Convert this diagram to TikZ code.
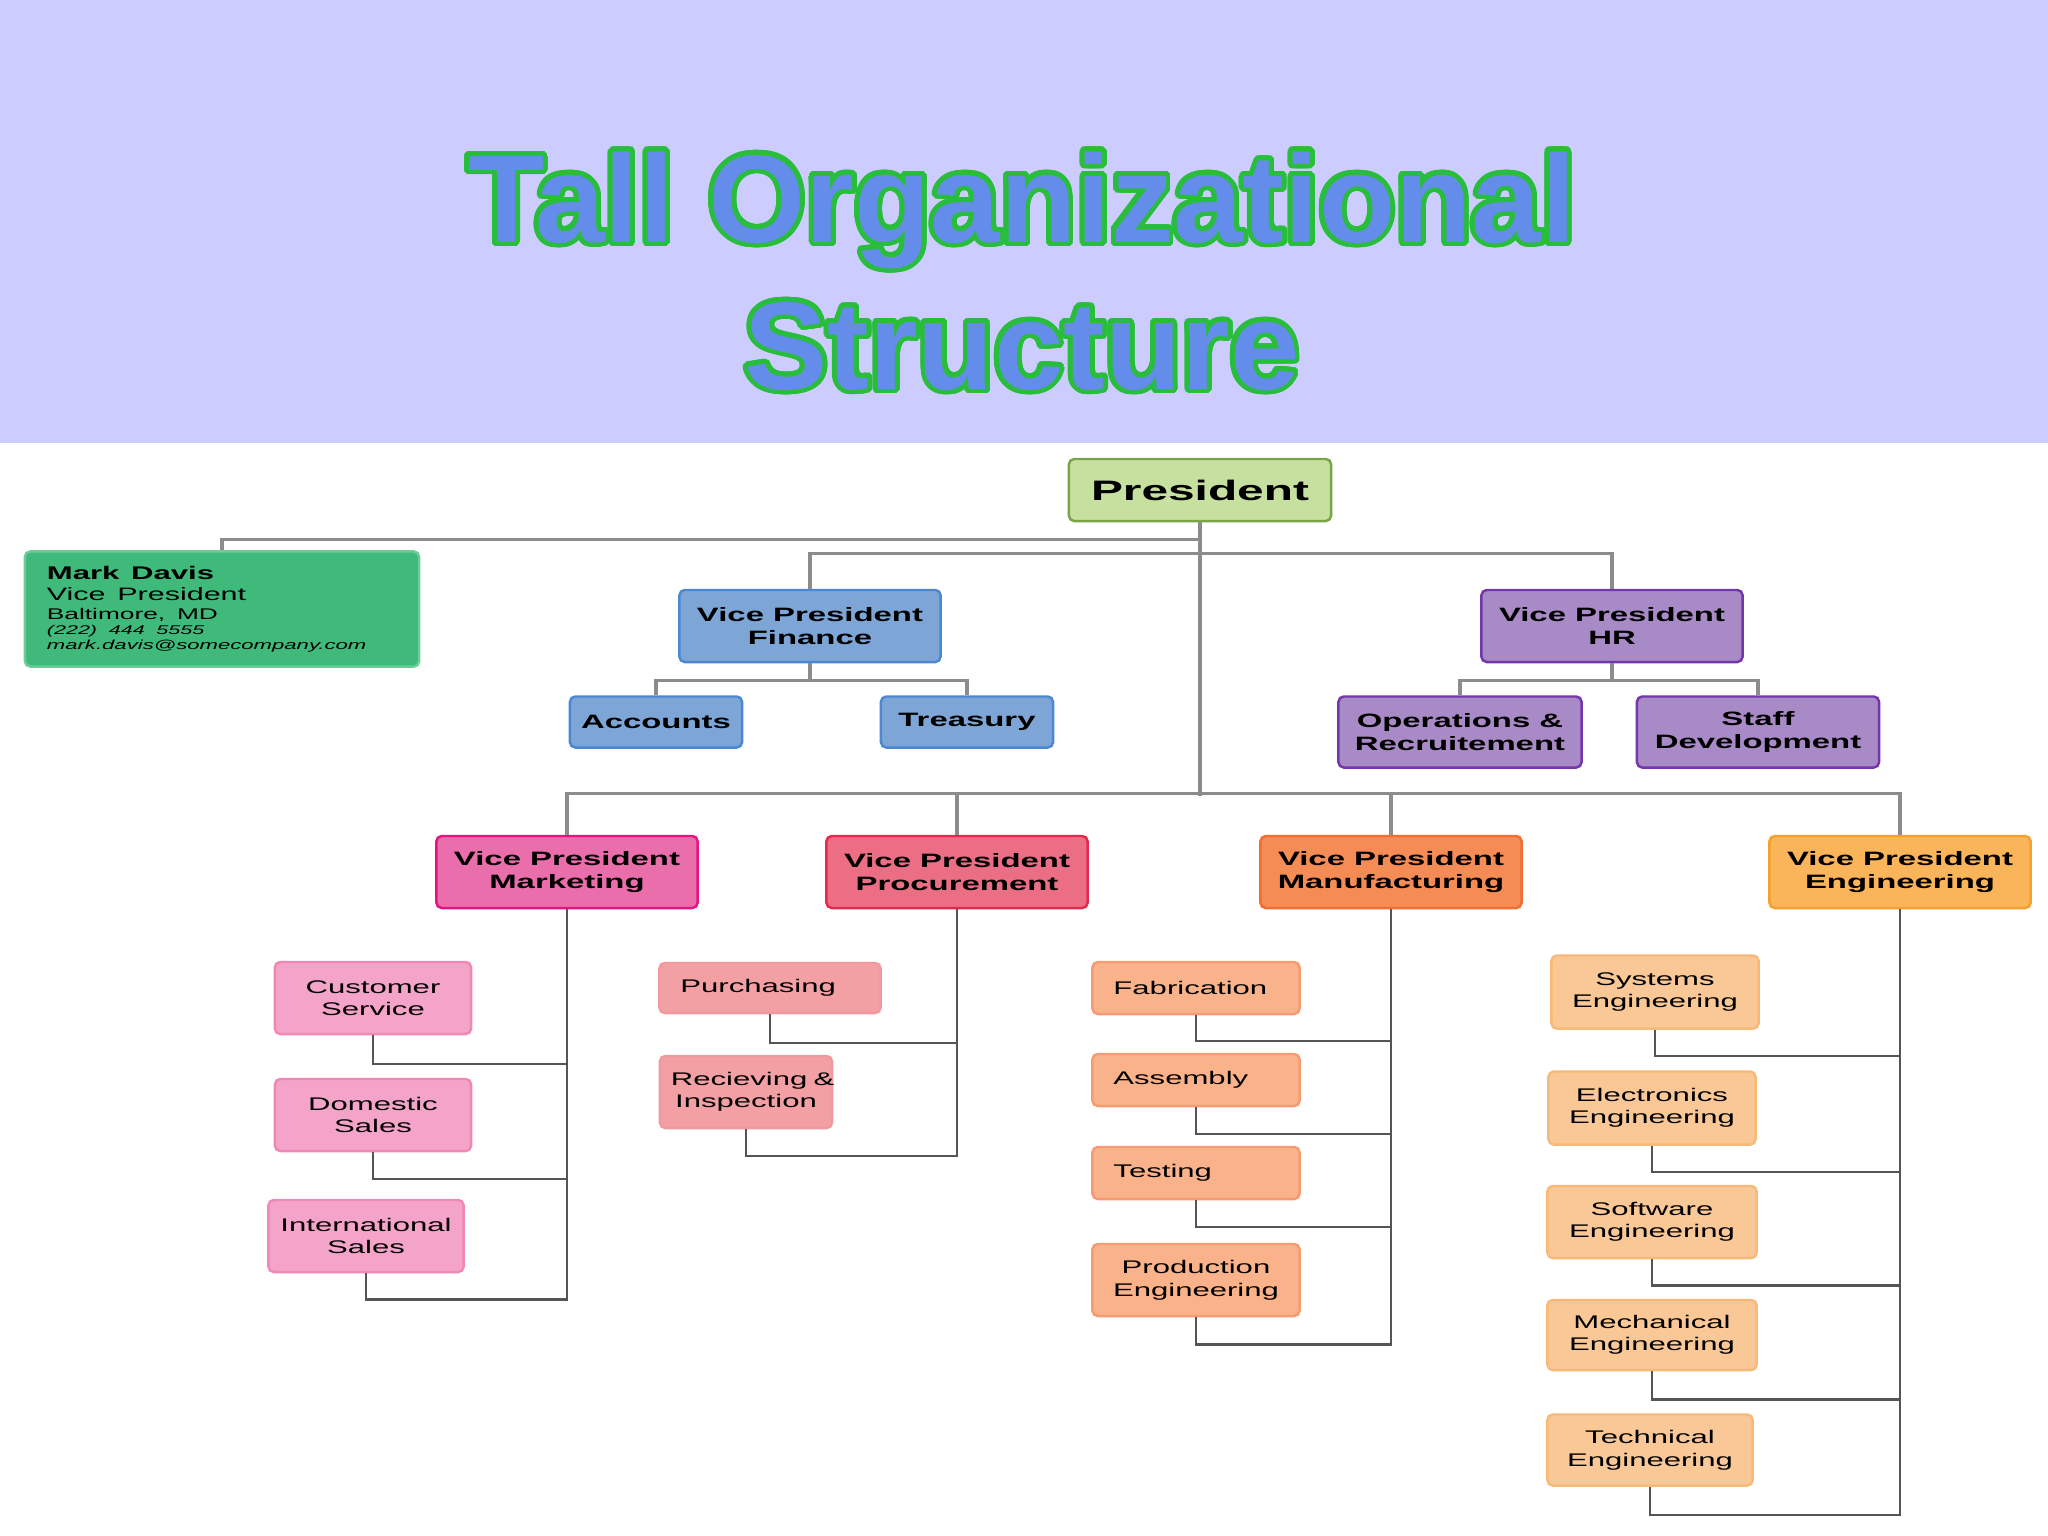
\documentclass[tikz,border=0pt]{standalone}
\usepackage{fontspec}
\setmainfont{Liberation Sans}
\newfontfamily\chartfont[FakeStretch=1.7]{Liberation Sans}
\usepackage{contour}
\contourlength{1.4pt}
\contournumber{24}

\definecolor{bannerbg}{RGB}{204,204,255}
\definecolor{titleblue}{RGB}{100,140,235}
\definecolor{titlegreen}{RGB}{40,190,60}
\definecolor{presfill}{RGB}{198,224,160}
\definecolor{presline}{RGB}{120,165,70}
\definecolor{markfill}{RGB}{64,186,122}
\definecolor{markline}{RGB}{110,205,150}
\definecolor{finfill}{RGB}{125,166,214}
\definecolor{finline}{RGB}{75,135,210}
\definecolor{hrfill}{RGB}{168,138,198}
\definecolor{hrline}{RGB}{115,55,170}
\definecolor{mktfill}{RGB}{234,110,172}
\definecolor{mktline}{RGB}{228,20,130}
\definecolor{mktleaf}{RGB}{244,164,200}
\definecolor{mktleafline}{RGB}{240,135,180}
\definecolor{procfill}{RGB}{236,110,132}
\definecolor{procline}{RGB}{228,40,80}
\definecolor{procleaf}{RGB}{242,160,164}
\definecolor{procleafline}{RGB}{240,125,140}
\definecolor{manufill}{RGB}{245,140,85}
\definecolor{manuline}{RGB}{240,110,50}
\definecolor{manuleaf}{RGB}{250,178,138}
\definecolor{manuleafline}{RGB}{245,155,115}
\definecolor{engfill}{RGB}{250,180,90}
\definecolor{engline}{RGB}{245,160,45}
\definecolor{engleaf}{RGB}{250,200,150}
\definecolor{engleafline}{RGB}{247,185,120}
\definecolor{linkgray}{RGB}{140,140,140}
\definecolor{subgray}{RGB}{85,85,85}

\begin{document}
\begin{tikzpicture}[
  x=0.01cm,y=-0.01cm,
  box/.style={draw,rounded corners=1.5pt,line width=0.7pt,align=center,inner sep=1pt,
    font=\chartfont\bfseries\fontsize{5.5}{6.4}\selectfont},
  vp/.style={box,minimum width=2.61cm,minimum height=0.72cm},
  leaf/.style={box,font=\chartfont\fontsize{5.2}{6.4}\selectfont,minimum width=2.07cm,minimum height=0.72cm},
  short/.style={minimum height=0.52cm,align=left,inner xsep=0.21cm},
  title/.style={anchor=base,text=titleblue,font=\bfseries\fontsize{35.5}{42}\selectfont},
  link/.style={draw=linkgray,line width=0.9pt},
  sublink/.style={draw=subgray,line width=0.7pt}
]
  \useasboundingbox (0,0) rectangle (2048,1536);
  \fill[bannerbg] (0,0) rectangle (2048,443);
  \node[title] (title1) at (1022,242) {\contour{titlegreen}{Tall Organizational}};
  \node[title] (title2) at (1022,389) {\contour{titlegreen}{Structure}};

  % top of the chart
  \node[box,fill=presfill,draw=presline,minimum width=2.62cm,minimum height=0.62cm,
    font=\chartfont\bfseries\fontsize{8}{9}\selectfont] (pres) at (1200,490) {President};
  \node[box,fill=markfill,draw=markline,minimum width=3.94cm,minimum height=1.15cm,
    text width=3.5cm,align=left,font=\chartfont] (mark) at (222,609)
    {{\bfseries\fontsize{5.2}{5.8}\selectfont Mark Davis\par}
     {\fontsize{5.1}{6}\selectfont Vice President\par}
     {\fontsize{4.4}{5.3}\selectfont Baltimore, MD\par}
     {\itshape\fontsize{3.6}{4.3}\selectfont (222) 444 5555\par}
     {\itshape\fontsize{3.7}{4.3}\selectfont mark.davis@somecompany.com\par}};
  \node[vp,fill=finfill,draw=finline] (fin) at (810,626) {Vice President\\Finance};
  \node[vp,fill=hrfill,draw=hrline] (hr) at (1612,626) {Vice President\\HR};
  \node[box,fill=finfill,draw=finline,minimum width=1.72cm,minimum height=0.51cm] (acc) at (656,722) {Accounts};
  \node[box,fill=finfill,draw=finline,minimum width=1.72cm,minimum height=0.51cm] (tre) at (967,722) {Treasury};
  \node[box,fill=hrfill,draw=hrline,minimum width=2.43cm,minimum height=0.71cm] (ops) at (1460,732) {Operations \&\\Recruitement};
  \node[box,fill=hrfill,draw=hrline,minimum width=2.42cm,minimum height=0.71cm] (staff) at (1758,732) {Staff\\Development};

  % vice presidents on the long line
  \node[vp,fill=mktfill,draw=mktline] (mkt) at (567,872) {Vice President\\Marketing};
  \node[vp,fill=procfill,draw=procline] (proc) at (957,872) {Vice President\\Procurement};
  \node[vp,fill=manufill,draw=manuline] (manu) at (1391,872) {Vice President\\Manufacturing};
  \node[vp,fill=engfill,draw=engline] (eng) at (1900,872) {Vice President\\Engineering};

  % departments
  \node[leaf,fill=mktleaf,draw=mktleafline,minimum width=1.96cm] (cust) at (373,998) {Customer\\Service};
  \node[leaf,fill=mktleaf,draw=mktleafline,minimum width=1.96cm] (dom) at (373,1115) {Domestic\\Sales};
  \node[leaf,fill=mktleaf,draw=mktleafline,minimum width=1.95cm] (intl) at (366,1236) {International\\Sales};
  \node[leaf,short,fill=procleaf,draw=procleaf!80!procleafline,text width=1.79cm,minimum height=0.5cm] (purch) at (770,988) {Purchasing};
  \node[leaf,fill=procleaf,draw=procleaf!80!procleafline,minimum width=1.72cm,text width=1.5cm,inner xsep=0.11cm] (recv) at (746,1092) {Recieving~\&\\Inspection};
  \node[leaf,short,fill=manuleaf,draw=manuleafline,text width=1.65cm] (fab) at (1196,988) {Fabrication};
  \node[leaf,short,fill=manuleaf,draw=manuleafline,text width=1.65cm] (asm) at (1196,1080) {Assembly};
  \node[leaf,short,fill=manuleaf,draw=manuleafline,text width=1.65cm] (test) at (1196,1173) {Testing};
  \node[leaf,fill=manuleaf,draw=manuleafline] (prod) at (1196,1280) {Production\\Engineering};
  \node[leaf,fill=engleaf,draw=engleafline,minimum height=0.73cm] (sys) at (1655,992) {Systems\\Engineering};
  \node[leaf,fill=engleaf,draw=engleafline,minimum height=0.73cm] (elec) at (1652,1108) {Electronics\\Engineering};
  \node[leaf,fill=engleaf,draw=engleafline,minimum width=2.09cm] (soft) at (1652,1222) {Software\\Engineering};
  \node[leaf,fill=engleaf,draw=engleafline,minimum width=2.09cm,minimum height=0.7cm] (mech) at (1652,1335) {Mechanical\\Engineering};
  \node[leaf,fill=engleaf,draw=engleafline,minimum width=2.05cm,minimum height=0.71cm] (tech) at (1650,1450) {Technical\\Engineering};

  % upper links
  \draw[link] (pres.south) -- ++(0,17) -| (mark.north);
  \draw[link] (pres.south) -- ++(0,274);
  \draw[link] (fin.north) -- ++(0,-35) -| (hr.north);
  \draw[link] (fin.south) -- ++(0,17) -| (acc.north);
  \draw[link] (fin.south) -- ++(0,17) -| (tre.north);
  \draw[link] (hr.south) -- ++(0,17) -| (ops.north);
  \draw[link] (hr.south) -- ++(0,17) -| (staff.north);
  \draw[link] (mkt.north) -- ++(0,-41) -| (eng.north);
  \draw[link] (proc.north) -- ++(0,-41);
  \draw[link] (manu.north) -- ++(0,-41);

  % department links
  \draw[sublink] (cust.south) -- ++(0,29) -| (mkt.south);
  \draw[sublink] (dom.south) -- ++(0,27) -| (mkt.south);
  \draw[sublink] (intl.south) -- ++(0,26) -| (mkt.south);
  \draw[sublink] (purch.south) -- ++(0,29) -| (proc.south);
  \draw[sublink] (recv.south) -- ++(0,27) -| (proc.south);
  \draw[sublink] (fab.south) -- ++(0,26) -| (manu.south);
  \draw[sublink] (asm.south) -- ++(0,27) -| (manu.south);
  \draw[sublink] (test.south) -- ++(0,27) -| (manu.south);
  \draw[sublink] (prod.south) -- ++(0,27) -| (manu.south);
  \draw[sublink] (sys.south) -- ++(0,26) -| (eng.south);
  \draw[sublink] (elec.south) -- ++(0,26) -| (eng.south);
  \draw[sublink] (soft.south) -- ++(0,26) -| (eng.south);
  \draw[sublink] (mech.south) -- ++(0,28) -| (eng.south);
  \draw[sublink] (tech.south) -- ++(0,28) -| (eng.south);
\end{tikzpicture}
\end{document}
